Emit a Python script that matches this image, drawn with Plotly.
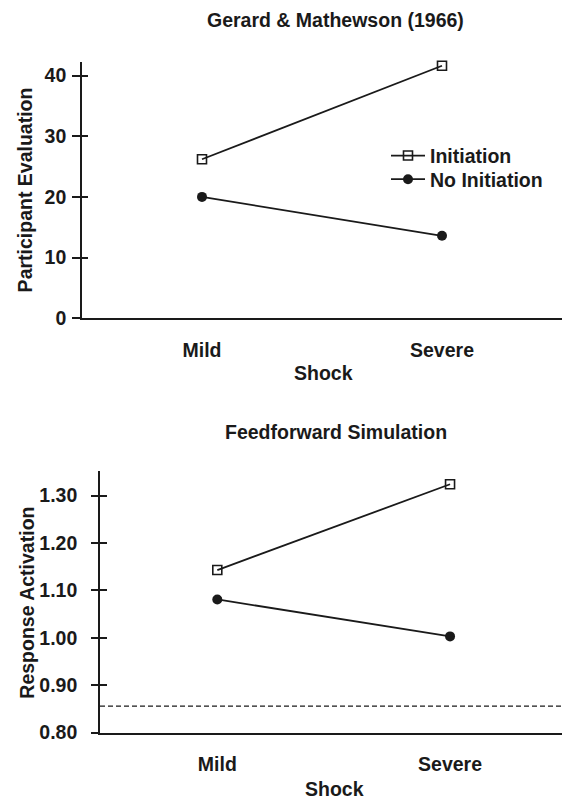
import plotly.graph_objects as go

# ---- data ----
categories = ["Mild", "Severe"]
series_names = ["Initiation", "No Initiation"]
gm_initiation = [26.2, 41.6]
gm_no_initiation = [20.0, 13.6]
ff_initiation = [1.143, 1.324]
ff_no_initiation = [1.081, 1.003]
ff_baseline = 0.856
gm_yticks = [0, 10, 20, 30, 40]
ff_yticks = [0.80, 0.90, 1.00, 1.10, 1.20, 1.30]
panel_titles = ["Gerard & Mathewson (1966)", "Feedforward Simulation"]
y_titles = ["Participant Evaluation", "Response Activation"]
x_title = "Shock"

# ---- style ----
W, H = 562, 810
INK = "#1a1a1a"
FONT = "Liberation Sans, Arial, sans-serif"
FS = 19.5


def fx(p):
    return p / W


def fy(p):
    return 1 - p / H


def bold(size):
    return dict(family=FONT, size=size, color=INK, weight="bold")


fig = go.Figure()

open_sq = dict(symbol="square-open", size=9, color=INK, line=dict(width=1.6, color=INK))
dot = dict(symbol="circle", size=10, color=INK, line=dict(width=0))
ln = dict(color=INK, width=1.8)

panels = [
    ("x", "y", "y3", gm_initiation, gm_no_initiation, True),
    ("x2", "y2", "y4", ff_initiation, ff_no_initiation, False),
]
for xa, ya, yo, ini, noini, leg in panels:
    fig.add_trace(go.Scatter(x=categories, y=ini, mode="lines+markers", name=series_names[0],
                             marker=open_sq, line=ln, xaxis=xa, yaxis=ya, showlegend=leg,
                             legend="legend", cliponaxis=False))
    fig.add_trace(go.Scatter(x=categories, y=noini, mode="lines+markers", name=series_names[1],
                             marker=dot, line=ln, xaxis=xa, yaxis=ya, showlegend=leg,
                             legend="legend2", cliponaxis=False))
    # invisible trace to instantiate the overlay axis (inner half of the crossing ticks)
    fig.add_trace(go.Scatter(x=categories, y=ini, mode="markers", marker=dict(opacity=0),
                             xaxis=xa, yaxis=yo, showlegend=False, hoverinfo="skip"))

# dashed baseline in the simulation panel
fig.add_shape(type="line", xref="x2 domain", yref="y2", x0=0, x1=1,
              y0=ff_baseline, y1=ff_baseline, line=dict(color=INK, width=1.2, dash="5px,3px"))

top_dom = [fy(322.7), fy(63)]
bot_dom = [fy(742.7), fy(477)]
top_range = [0, 42.2]
bot_range = [0.8, 1.353]

common_x = dict(type="category", showline=True, linewidth=2, linecolor=INK, ticks="",
                showgrid=False, zeroline=False, tickfont=bold(FS), ticklabelstandoff=13)
common_y = dict(showline=True, linewidth=1.6, linecolor=INK, ticks="outside", tickwidth=1.5,
                tickcolor=INK, showgrid=False, zeroline=False, tickfont=bold(FS))
leg_common = dict(xanchor="left", yanchor="middle", bgcolor="rgba(0,0,0,0)",
                  font=bold(FS), itemwidth=34)

fig.update_layout(
    width=W, height=H,
    margin=dict(l=0, r=0, t=0, b=0),
    paper_bgcolor="white", plot_bgcolor="white",
    showlegend=True,
    legend=dict(leg_common, x=fx(386), y=fy(158)),
    legend2=dict(leg_common, x=fx(386), y=fy(182)),
    xaxis=dict(common_x, domain=[fx(82), 1], range=[-0.5, 1.5], anchor="y"),
    yaxis=dict(common_y, domain=top_dom, range=top_range, tickvals=gm_yticks,
               ticklen=8, anchor="x", ticklabelstandoff=2),
    yaxis3=dict(domain=top_dom, range=top_range, tickvals=gm_yticks, overlaying="y",
                anchor="x", side="left", ticks="inside", ticklen=6, tickwidth=1.5,
                tickcolor=INK, showticklabels=False, showline=False, showgrid=False,
                zeroline=False),
    xaxis2=dict(common_x, domain=[fx(100), 1], range=[-0.504, 1.481], anchor="y2"),
    yaxis2=dict(common_y, domain=bot_dom, range=bot_range, tickvals=ff_yticks,
                tickformat=".2f", ticklen=7, anchor="x2", ticklabelstandoff=10),
    yaxis4=dict(domain=bot_dom, range=bot_range, tickvals=ff_yticks, overlaying="y2",
                anchor="x2", side="left", ticks="inside", ticklen=7, tickwidth=1.5,
                tickcolor=INK, showticklabels=False, showline=False, showgrid=False,
                zeroline=False),
)

ann = [
    dict(text=panel_titles[0], x=fx(335.5), y=fy(20), font=bold(FS)),
    dict(text=panel_titles[1], x=fx(335.5), y=fy(438), font=bold(FS)),
    dict(text=y_titles[0], x=fx(25), y=fy(193), font=bold(FS), textangle=-90),
    dict(text=y_titles[1], x=fx(27), y=fy(611), font=bold(FS), textangle=-90),
    dict(text=x_title, x=fx(323), y=fy(378), font=bold(FS)),
    dict(text=x_title, x=fx(334), y=fy(800), font=bold(FS)),
]
for a in ann:
    fig.add_annotation(xref="paper", yref="paper", showarrow=False,
                       xanchor="center", yanchor="middle", **a)

fig.write_html("out.html", config={"displayModeBar": False})

# remove the default page margin so the figure sits at the window origin
with open("out.html", encoding="utf-8") as f:
    html = f.read()
html = html.replace("<head>", "<head><style>html,body{margin:0;padding:0;overflow:hidden}</style>", 1)
with open("out.html", "w", encoding="utf-8") as f:
    f.write(html)
